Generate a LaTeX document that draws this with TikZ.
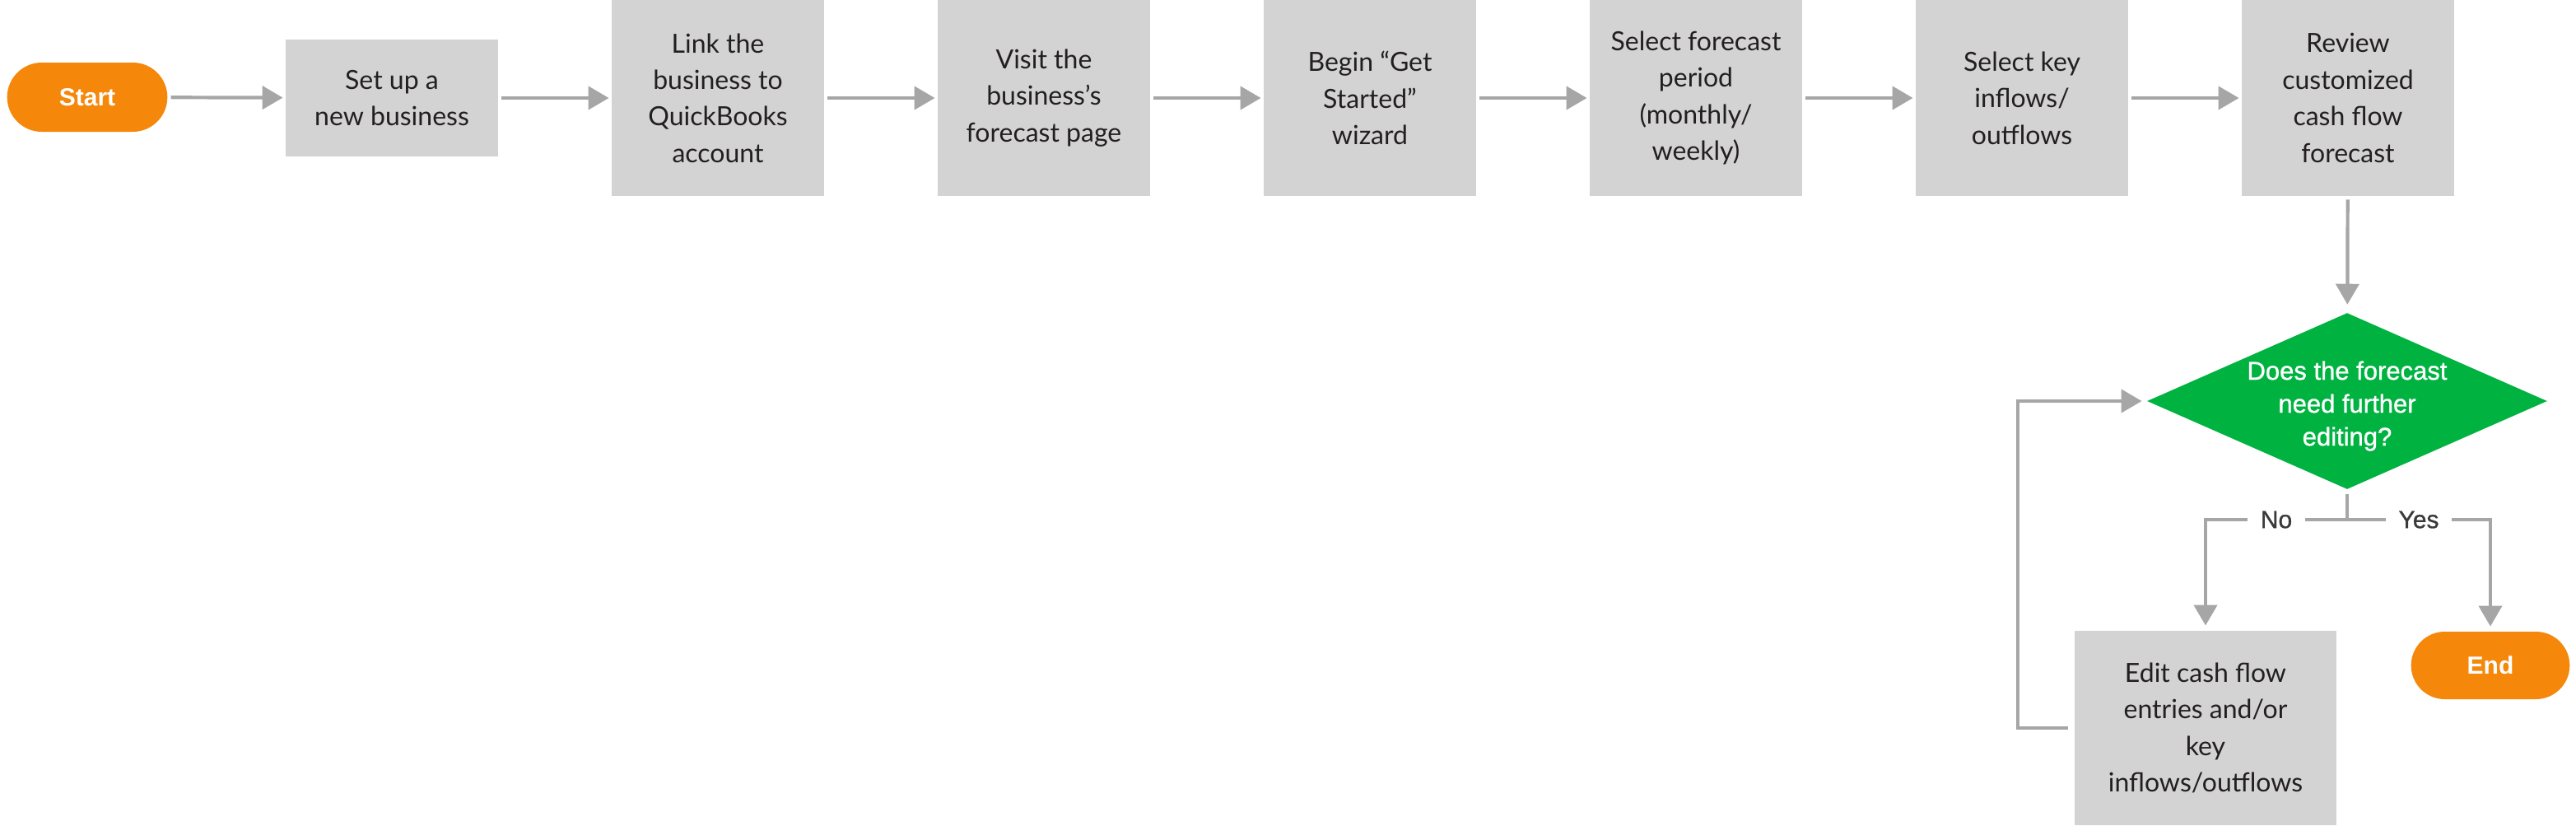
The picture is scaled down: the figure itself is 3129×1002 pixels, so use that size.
\documentclass[tikz,border=0pt]{standalone}
\usepackage{fontspec}
\setmainfont{Lato}
\newfontfamily\roundfont{Liberation Sans}
\newfontfamily\midfont[FakeBold=1]{Liberation Sans}
\usepackage{xcolor}
\usepackage{tikz}
\usetikzlibrary{shapes.geometric}
\usetikzlibrary{shapes.misc}
\usetikzlibrary{arrows.meta}
\definecolor{pillorange}{HTML}{F5870A}
\definecolor{askgreen}{HTML}{00B341}
\definecolor{boxgray}{HTML}{D3D3D3}
\definecolor{linegray}{HTML}{A6A6A6}
\definecolor{inkdark}{HTML}{231F20}
\definecolor{choiceink}{HTML}{3A3A3A}

\begin{document}
\begin{tikzpicture}[x=0.5pt, y=-0.5pt,
    pill/.style={rounded rectangle,
    fill=pillorange,
    text=white,
    minimum width=104pt,
    minimum height=42pt,
    font=\roundfont\bfseries\fontsize{15}{18}\selectfont},
    stepbox/.style={rectangle,
    fill=boxgray,
    text=inkdark,
    align=center,
    inner sep=0pt,
    minimum width=129pt,
    minimum height=119pt,
    font=\fontsize{16}{22.2}\selectfont},
    ask/.style={diamond,
    fill=askgreen,
    inner sep=0pt,
    minimum width=243pt,
    minimum height=107pt},
    asktext/.style={text=white,
    align=center,
    yshift=-3pt,
    font=\midfont\fontsize{15.5}{20}\selectfont},
    choice/.style={fill=white,
    text=choiceink,
    inner xsep=8pt,
    font=\midfont\fontsize{15}{18}\selectfont},
    flow/.style={draw=linegray,
    line width=2.1pt,
    -{Triangle[length=12.5pt, width=14pt]},
    shorten <=2pt,
    shorten >=1.5pt}]
    \useasboundingbox (0,0) rectangle (3129,1002);

    \node [pill] (start) at (106,118) {Start};
    \node [stepbox, minimum height=71pt] (setup) at (476,119) {Set up a\\new business};
    \node [stepbox] (link) at (872,119) {Link the\\business to\\QuickBooks\\account};
    \node [stepbox] (visit) at (1268,119) {Visit the\\business’s\\forecast page};
    \node [stepbox] (wizard) at (1664,119) {Begin “Get\\Started”\\wizard};
    \node [stepbox] (period) at (2060,119) {Select forecast\\period\\(monthly/\\weekly)};
    \node [stepbox] (keys) at (2456,119) {Select key\\inflows/\\outflows};
    \node [stepbox] (review) at (2852,119) {Review\\customized\\cash flow\\forecast};
    \node [ask, label={[asktext]center:Does the forecast\\need further\\editing?}] (ask) at (2851,487) {};
    \node [stepbox, minimum width=159pt, minimum height=118pt] (edit) at (2679,884) {Edit cash flow\\entries and/or\\key\\inflows/outflows};
    \node [pill, minimum width=103pt, minimum height=41pt] (stop) at (3025,808) {End};
    \coordinate (split) at (2851,631);

    \draw [flow] (start) -- (setup);
    \draw [flow] (setup) -- (link);
    \draw [flow] (link) -- (visit);
    \draw [flow] (visit) -- (wizard);
    \draw [flow] (wizard) -- (period);
    \draw [flow] (period) -- (keys);
    \draw [flow] (keys) -- (review);
    \draw [flow, shorten >=5pt] (review) -- (ask);
    \draw [draw=linegray, line width=2.1pt, shorten <=3pt] (ask.south) -- (split);
    \draw [flow, shorten <=0pt, shorten >=3pt] (split) -| node [choice, pos=0.25] {No} (edit.north);
    \draw [flow, shorten <=0pt, shorten >=3pt] (split) -| node [choice, pos=0.25] {Yes} (stop.north);
    \draw [flow, shorten <=4pt, shorten >=3pt] (edit.west) -- ++(-69,0) |- (ask.west);
\end{tikzpicture}
\end{document}
